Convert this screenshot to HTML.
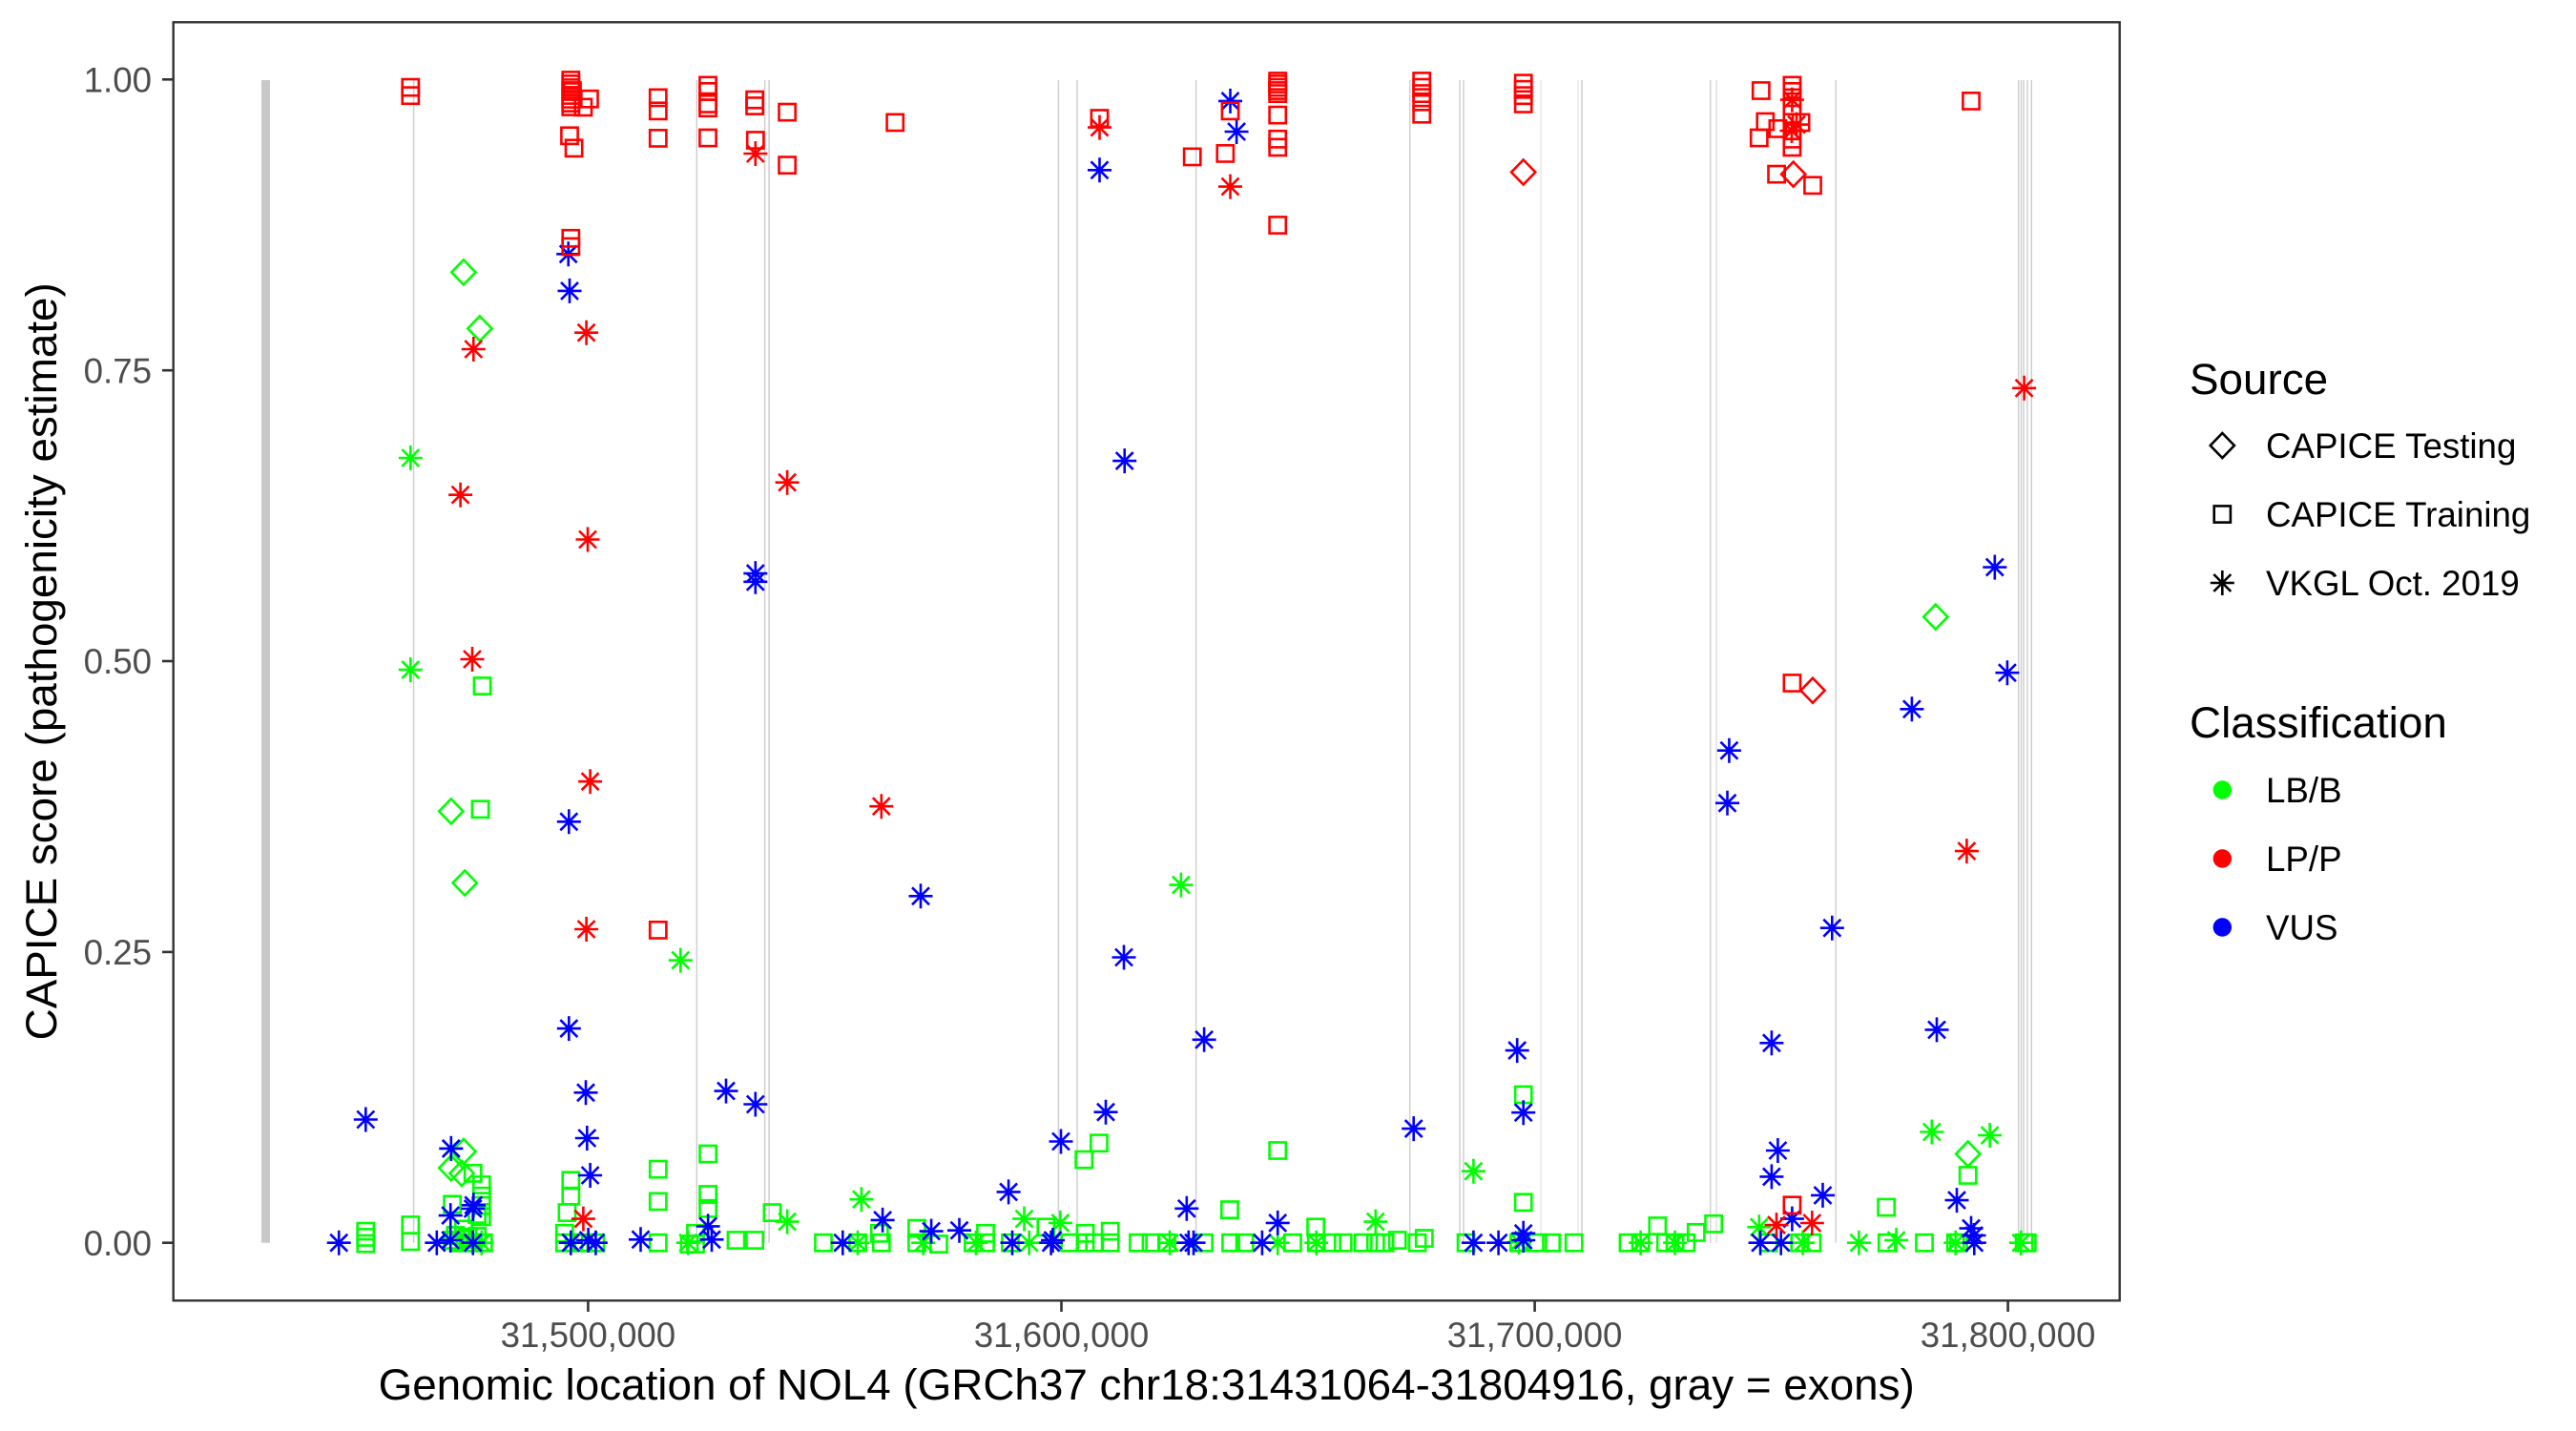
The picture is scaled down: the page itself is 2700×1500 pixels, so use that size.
<!DOCTYPE html>
<html><head><meta charset="utf-8"><style>
html,body{margin:0;padding:0;background:#fff;}
svg{display:block;font-family:"Liberation Sans",Arial,sans-serif;}
</style></head><body>
<svg width="2700" height="1500" viewBox="0 0 2700 1500" xmlns="http://www.w3.org/2000/svg" xmlns:xlink="http://www.w3.org/1999/xlink">
<defs>
<rect id="s" x="-8.6" y="-8.6" width="17.2" height="17.2" fill="none"/>
<path id="d" d="M0,-13 L12.6,0 L0,13 L-12.6,0Z" fill="none"/>
<path id="a" d="M0,-13V13M-12.5,0H12.5M-9,-9L9,9M-9,9L9,-9" fill="none"/>
</defs>
<rect x="0" y="0" width="2700" height="1500" fill="#fff"/>
<!-- exons -->
<rect x="274" y="84" width="9" height="1218.7" fill="#c8c8c8"/>
<g stroke="#cccccc" stroke-width="1.4">
<line x1="433.6" y1="84" x2="433.6" y2="1302.7"/>
<line x1="730.3" y1="84" x2="730.3" y2="1302.7"/>
<line x1="801.6" y1="84" x2="801.6" y2="1302.7"/>
<line x1="806.1" y1="84" x2="806.1" y2="1302.7"/>
<line x1="1109.4" y1="84" x2="1109.4" y2="1302.7"/>
<line x1="1129" y1="84" x2="1129" y2="1302.7"/>
<line x1="1253.6" y1="84" x2="1253.6" y2="1302.7"/>
<line x1="1477.8" y1="84" x2="1477.8" y2="1302.7"/>
<line x1="1530" y1="84" x2="1530" y2="1302.7"/>
<line x1="1534" y1="84" x2="1534" y2="1302.7"/>
<line x1="1615" y1="84" x2="1615" y2="1302.7" stroke="#e6e6e6"/>
<line x1="1654" y1="84" x2="1654" y2="1302.7" stroke="#e6e6e6"/>
<line x1="1658" y1="84" x2="1658" y2="1302.7"/>
<line x1="1792.8" y1="84" x2="1792.8" y2="1302.7"/>
<line x1="1799" y1="84" x2="1799" y2="1302.7" stroke="#dddddd"/>
<line x1="1924.2" y1="84" x2="1924.2" y2="1302.7"/>
<line x1="2115.7" y1="84" x2="2115.7" y2="1302.7"/>
<line x1="2118.5" y1="84" x2="2118.5" y2="1302.7"/>
<line x1="2121" y1="84" x2="2121" y2="1302.7"/>
<line x1="2125" y1="84" x2="2125" y2="1302.7"/>
<line x1="2129.3" y1="84" x2="2129.3" y2="1302.7"/>
</g>
<!-- GREEN -->
<g stroke="#00ff00" stroke-width="2.6" fill="none">
<use href="#s" x="505.5" y="719"/><use href="#s" x="503.5" y="848.3"/><use href="#s" x="1151.9" y="1198.2"/><use href="#s" x="1136.2" y="1215.6"/>
<use href="#s" x="742.1" y="1209.5"/><use href="#s" x="495.7" y="1229.9"/><use href="#s" x="504.8" y="1242"/><use href="#s" x="689.8" y="1225.6"/>
<use href="#s" x="598.3" y="1237.3"/><use href="#s" x="598.3" y="1253.7"/><use href="#s" x="742.1" y="1252"/><use href="#s" x="742.1" y="1266.8"/>
<use href="#s" x="689.8" y="1259.4"/><use href="#s" x="809.4" y="1271.1"/><use href="#s" x="474.1" y="1262.4"/><use href="#s" x="504.8" y="1253.7"/>
<use href="#s" x="504.8" y="1275.4"/><use href="#s" x="594.4" y="1271.1"/><use href="#s" x="961" y="1287.6"/><use href="#s" x="1033" y="1292.8"/>
<use href="#s" x="1096.3" y="1286.3"/><use href="#s" x="485.9" y="1288.4"/><use href="#s" x="490.5" y="1297"/><use href="#s" x="477.4" y="1295"/>
<use href="#s" x="500" y="1273"/><use href="#s" x="504.8" y="1263.7"/><use href="#s" x="1596.7" y="1147.5"/><use href="#s" x="1339.2" y="1206"/>
<use href="#s" x="2062.7" y="1232"/><use href="#s" x="1596.7" y="1260.3"/><use href="#s" x="1977.1" y="1265.5"/><use href="#s" x="1288.9" y="1268.1"/>
<use href="#s" x="1379.1" y="1286.3"/><use href="#s" x="1796.1" y="1282.8"/><use href="#s" x="1777.8" y="1291.9"/><use href="#s" x="1737.3" y="1285"/>
<use href="#s" x="430.3" y="1284"/><use href="#s" x="430.3" y="1301.4"/><use href="#s" x="383.3" y="1290.6"/><use href="#s" x="383.3" y="1297"/><use href="#s" x="383.3" y="1303.6"/>
<use href="#s" x="480.7" y="1302.7"/><use href="#s" x="487.2" y="1299"/><use href="#s" x="493.7" y="1302.7"/><use href="#s" x="500.2" y="1296"/>
<use href="#s" x="506.8" y="1302.7"/><use href="#s" x="474" y="1300"/><use href="#s" x="591.8" y="1302.7"/><use href="#s" x="601.6" y="1302.7"/>
<use href="#s" x="611.4" y="1302.7"/><use href="#s" x="624.4" y="1302.7"/><use href="#s" x="591.8" y="1292.8"/><use href="#s" x="689.8" y="1302.7"/>
<use href="#s" x="722.5" y="1304"/><use href="#s" x="729" y="1304"/><use href="#s" x="729" y="1292.8"/><use href="#s" x="771.5" y="1300"/>
<use href="#s" x="791.1" y="1300"/><use href="#s" x="863" y="1302.7"/><use href="#s" x="899" y="1302.7"/><use href="#s" x="923.8" y="1302.7"/>
<use href="#s" x="921.8" y="1292.8"/><use href="#s" x="961" y="1302.7"/><use href="#s" x="983.9" y="1304"/><use href="#s" x="1019.9" y="1302.7"/>
<use href="#s" x="1033" y="1302.7"/><use href="#s" x="1059" y="1302.7"/><use href="#s" x="1121.2" y="1302.7"/><use href="#s" x="1137.5" y="1302.7"/>
<use href="#s" x="1147.3" y="1302.7"/><use href="#s" x="1163.7" y="1302.7"/><use href="#s" x="1193" y="1302.7"/><use href="#s" x="1137.5" y="1292.8"/>
<use href="#s" x="1163.7" y="1290.6"/><use href="#s" x="1206.5" y="1302.7"/><use href="#s" x="1222.9" y="1302.7"/><use href="#s" x="1262" y="1302.7"/>
<use href="#s" x="1290" y="1302.7"/><use href="#s" x="1304.6" y="1302.7"/><use href="#s" x="1354.9" y="1302.7"/><use href="#s" x="1379.7" y="1302.7"/>
<use href="#s" x="1396" y="1302.7"/><use href="#s" x="1407.8" y="1302.7"/><use href="#s" x="1428.8" y="1302.7"/><use href="#s" x="1441.8" y="1302.7"/>
<use href="#s" x="1451.6" y="1302.7"/><use href="#s" x="1464.7" y="1300"/><use href="#s" x="1485.6" y="1302.7"/><use href="#s" x="1492.8" y="1298"/>
<use href="#s" x="1536.6" y="1302.7"/><use href="#s" x="1592" y="1302.7"/><use href="#s" x="1611.8" y="1302.7"/><use href="#s" x="1626.1" y="1302.7"/>
<use href="#s" x="1649.7" y="1302.7"/><use href="#s" x="1706.5" y="1302.7"/><use href="#s" x="1719.6" y="1302.7"/><use href="#s" x="1745.8" y="1302.7"/>
<use href="#s" x="1755.6" y="1302.7"/><use href="#s" x="1767.3" y="1302.7"/><use href="#s" x="1853.6" y="1302.7"/><use href="#s" x="1886.3" y="1302.7"/>
<use href="#s" x="1899.3" y="1302.7"/><use href="#s" x="1977.8" y="1302.7"/><use href="#s" x="2017" y="1302.7"/><use href="#s" x="2049.7" y="1302.7"/>
<use href="#s" x="2053" y="1302.7"/><use href="#s" x="2121.6" y="1302.7"/><use href="#s" x="2124.8" y="1302.7"/>
<use href="#a" x="430.3" y="480"/><use href="#a" x="430.3" y="702.1"/><use href="#a" x="713.3" y="1006.6"/><use href="#a" x="1237.9" y="927.6"/>
<use href="#a" x="902.9" y="1257.2"/><use href="#a" x="825.1" y="1280.6"/><use href="#a" x="1073.5" y="1277.6"/><use href="#a" x="1111.4" y="1281.9"/>
<use href="#a" x="472.8" y="1203.9"/><use href="#a" x="2024.8" y="1186.5"/><use href="#a" x="2085.6" y="1190"/><use href="#a" x="1544.4" y="1227.7"/>
<use href="#a" x="1441.8" y="1280.6"/><use href="#a" x="1843.8" y="1286.3"/>
<use href="#a" x="504.8" y="1302.7"/><use href="#a" x="721.2" y="1302.7"/><use href="#a" x="899" y="1302.7"/><use href="#a" x="967.6" y="1302.7"/>
<use href="#a" x="1023" y="1302.7"/><use href="#a" x="1078.7" y="1302.7"/><use href="#a" x="1226" y="1302.7"/><use href="#a" x="1339.2" y="1302.7"/>
<use href="#a" x="1379.7" y="1302.7"/><use href="#a" x="1719.6" y="1302.7"/><use href="#a" x="1755.6" y="1302.7"/><use href="#a" x="1889.5" y="1302.7"/>
<use href="#a" x="1948.4" y="1302.7"/><use href="#a" x="1987.6" y="1300"/><use href="#a" x="2049.7" y="1302.7"/><use href="#a" x="2118.3" y="1302.7"/><use href="#a" x="1592" y="1302"/>
<use href="#d" x="485.9" y="285.4"/><use href="#d" x="502.9" y="344.4"/><use href="#d" x="472.8" y="850.4"/><use href="#d" x="487.2" y="925.5"/>
<use href="#d" x="485.9" y="1207"/><use href="#d" x="472.8" y="1224.3"/><use href="#d" x="484" y="1230"/><use href="#d" x="2028.8" y="646.6"/><use href="#d" x="2062.7" y="1209.5"/>
</g>
<!-- BLUE -->
<g stroke="#0000ff" stroke-width="2.6" fill="none">
<use href="#a" x="1152.5" y="178.3"/><use href="#a" x="595.7" y="266.3"/><use href="#a" x="597" y="304.9"/><use href="#a" x="1178.7" y="483.1"/>
<use href="#a" x="791.8" y="601.1"/><use href="#a" x="791.8" y="609.8"/><use href="#a" x="596.3" y="861.3"/><use href="#a" x="965" y="939.3"/>
<use href="#a" x="1178" y="1003.5"/><use href="#a" x="596.3" y="1078.1"/><use href="#a" x="614" y="1145.3"/><use href="#a" x="761" y="1143.6"/>
<use href="#a" x="791.8" y="1157.5"/><use href="#a" x="1159" y="1165.7"/><use href="#a" x="383.3" y="1173.5"/><use href="#a" x="615.3" y="1193"/>
<use href="#a" x="1112" y="1196.5"/><use href="#a" x="472.8" y="1203.9"/><use href="#a" x="618.6" y="1232"/><use href="#a" x="1057.1" y="1249.4"/>
<use href="#a" x="496.3" y="1263.3"/><use href="#a" x="495.7" y="1267"/><use href="#a" x="472.2" y="1274.1"/><use href="#a" x="925.1" y="1278.9"/>
<use href="#a" x="742.1" y="1285.4"/><use href="#a" x="976.1" y="1290.6"/><use href="#a" x="1005.5" y="1289.7"/>
<use href="#a" x="355.2" y="1302.7"/><use href="#a" x="457.8" y="1302.7"/><use href="#a" x="472.2" y="1300"/><use href="#a" x="495.7" y="1302.7"/>
<use href="#a" x="598.3" y="1302.7"/><use href="#a" x="616.6" y="1300"/><use href="#a" x="624.4" y="1302.7"/><use href="#a" x="671.5" y="1299.3"/>
<use href="#a" x="746" y="1299.3"/><use href="#a" x="883.3" y="1302.7"/><use href="#a" x="1061" y="1302.7"/><use href="#a" x="1101.6" y="1302.7"/><use href="#a" x="1103.5" y="1300"/>
<use href="#a" x="1289.5" y="105.9"/><use href="#a" x="1296.1" y="138"/><use href="#a" x="2103.9" y="705.2"/><use href="#a" x="2003.9" y="743.3"/>
<use href="#a" x="1812.4" y="786.7"/><use href="#a" x="1810.5" y="841.8"/><use href="#a" x="1920.3" y="972.7"/><use href="#a" x="1262.1" y="1089.8"/>
<use href="#a" x="1590.2" y="1101.1"/><use href="#a" x="1856.9" y="1093.3"/><use href="#a" x="2030" y="1079.4"/><use href="#a" x="1596.7" y="1166.2"/>
<use href="#a" x="1481.7" y="1183.1"/><use href="#a" x="1863.4" y="1206"/><use href="#a" x="1856.9" y="1233.4"/><use href="#a" x="1910.5" y="1252.9"/>
<use href="#a" x="2051" y="1258.1"/><use href="#a" x="1243.8" y="1266.8"/><use href="#a" x="1339.2" y="1281.9"/><use href="#a" x="1878.4" y="1277.6"/>
<use href="#a" x="2066" y="1287.6"/><use href="#a" x="2069" y="1295"/><use href="#a" x="1596.7" y="1292.8"/><use href="#a" x="2090.8" y="594.6"/>
<use href="#a" x="1245.8" y="1302.7"/><use href="#a" x="1251" y="1302.7"/><use href="#a" x="1322.9" y="1302.7"/><use href="#a" x="1544.4" y="1302.7"/>
<use href="#a" x="1570.6" y="1302.7"/><use href="#a" x="1596.7" y="1300"/><use href="#a" x="1845.1" y="1302.7"/><use href="#a" x="1866.7" y="1302.7"/><use href="#a" x="2069.3" y="1302.7"/>
</g>
<!-- RED -->
<g stroke="#ff0000" stroke-width="2.6" fill="none">
<use href="#s" x="430.3" y="91.6"/><use href="#s" x="430.3" y="100.2"/>
<use href="#s" x="598.3" y="84"/><use href="#s" x="598.3" y="88"/><use href="#s" x="598.3" y="92"/><use href="#s" x="598.3" y="96"/>
<use href="#s" x="598.3" y="100"/><use href="#s" x="598.3" y="104"/><use href="#s" x="598.3" y="108"/><use href="#s" x="598.3" y="112"/>
<use href="#s" x="617.9" y="103.7"/><use href="#s" x="611.4" y="112.4"/><use href="#s" x="600" y="95"/>
<use href="#s" x="597" y="142.3"/><use href="#s" x="601.6" y="155.3"/>
<use href="#s" x="689.8" y="102.4"/><use href="#s" x="689.8" y="116.3"/><use href="#s" x="689.8" y="144.9"/>
<use href="#s" x="742" y="89.4"/><use href="#s" x="742" y="95.9"/><use href="#s" x="742" y="108.9"/><use href="#s" x="742" y="113.2"/><use href="#s" x="742" y="144.5"/>
<use href="#s" x="791.1" y="104.6"/><use href="#s" x="791.1" y="111"/><use href="#s" x="791.8" y="147"/>
<use href="#s" x="825.1" y="117.6"/><use href="#s" x="825.1" y="173.1"/><use href="#s" x="938.2" y="128.4"/><use href="#s" x="1152.5" y="124"/>
<use href="#s" x="598.3" y="249.8"/><use href="#s" x="598.3" y="258.5"/><use href="#s" x="689.8" y="974.9"/>
<use href="#s" x="1289.5" y="116.3"/><use href="#s" x="1249.7" y="164.4"/><use href="#s" x="1284.3" y="160.9"/>
<use href="#s" x="1339.2" y="85"/><use href="#s" x="1339.2" y="88"/><use href="#s" x="1339.2" y="91.6"/><use href="#s" x="1339.2" y="95"/>
<use href="#s" x="1339.2" y="98.1"/><use href="#s" x="1339.2" y="120.6"/><use href="#s" x="1339.2" y="145.8"/><use href="#s" x="1339.2" y="154.4"/><use href="#s" x="1339.2" y="236"/>
<use href="#s" x="1490.2" y="85"/><use href="#s" x="1490.2" y="91.6"/><use href="#s" x="1490.2" y="98.1"/><use href="#s" x="1490.2" y="106.7"/><use href="#s" x="1490.2" y="119.7"/>
<use href="#s" x="1596.7" y="87.2"/><use href="#s" x="1596.7" y="93.7"/><use href="#s" x="1596.7" y="100.2"/><use href="#s" x="1596.7" y="108.9"/>
<use href="#s" x="1845.8" y="95"/><use href="#s" x="1878.4" y="89.4"/><use href="#s" x="1878.4" y="95.9"/><use href="#s" x="1878.4" y="102.4"/><use href="#s" x="1878.4" y="111.1"/>
<use href="#s" x="1850.3" y="127.5"/><use href="#s" x="1863.4" y="134.9"/><use href="#s" x="1843.8" y="144.5"/><use href="#s" x="1878.4" y="128.4"/>
<use href="#s" x="1878.4" y="137.1"/><use href="#s" x="1878.4" y="145.8"/><use href="#s" x="1878.4" y="154.4"/><use href="#s" x="1887.6" y="128.4"/>
<use href="#s" x="1862.1" y="182.6"/><use href="#s" x="1900" y="194.3"/><use href="#s" x="2066" y="105.9"/><use href="#s" x="1878.4" y="716"/><use href="#s" x="1878.4" y="1263.3"/>
<use href="#d" x="1596.7" y="180.5"/><use href="#d" x="1879.7" y="182.6"/><use href="#d" x="1900" y="723.8"/>
<use href="#a" x="791.8" y="161"/><use href="#a" x="1152.5" y="133.6"/><use href="#a" x="614.6" y="348.7"/><use href="#a" x="496.3" y="366"/>
<use href="#a" x="482.6" y="518.7"/><use href="#a" x="825.1" y="505.7"/><use href="#a" x="616" y="565.5"/><use href="#a" x="495" y="691"/>
<use href="#a" x="618.6" y="819.2"/><use href="#a" x="923.8" y="845.2"/><use href="#a" x="614.6" y="974"/><use href="#a" x="611.4" y="1277.6"/>
<use href="#a" x="1289.5" y="195.6"/><use href="#a" x="1878.4" y="104.6"/><use href="#a" x="1883" y="130.6"/><use href="#a" x="1878" y="137"/>
<use href="#a" x="2121.6" y="406.8"/><use href="#a" x="2061.4" y="892.1"/><use href="#a" x="1862" y="1284.1"/><use href="#a" x="1899.3" y="1282"/>
</g>
<!-- panel border -->
<rect x="181.7" y="23.3" width="2040" height="1340" fill="none" stroke="#333333" stroke-width="2.4"/>
<!-- ticks -->
<g stroke="#333333" stroke-width="2.6">
<line x1="170" y1="83.3" x2="181.7" y2="83.3"/>
<line x1="170" y1="388.2" x2="181.7" y2="388.2"/>
<line x1="170" y1="693" x2="181.7" y2="693"/>
<line x1="170" y1="997.9" x2="181.7" y2="997.9"/>
<line x1="170" y1="1302.7" x2="181.7" y2="1302.7"/>
<line x1="616.4" y1="1363.3" x2="616.4" y2="1375"/>
<line x1="1112.5" y1="1363.3" x2="1112.5" y2="1375"/>
<line x1="1608.6" y1="1363.3" x2="1608.6" y2="1375"/>
<line x1="2104.6" y1="1363.3" x2="2104.6" y2="1375"/>
</g>
<g fill="#4d4d4d" font-size="36.7">
<text x="159" y="96.4" text-anchor="end">1.00</text>
<text x="159" y="401.3" text-anchor="end">0.75</text>
<text x="159" y="706.1" text-anchor="end">0.50</text>
<text x="159" y="1011" text-anchor="end">0.25</text>
<text x="159" y="1315.8" text-anchor="end">0.00</text>
<text x="616.4" y="1412" text-anchor="middle">31,500,000</text>
<text x="1112.5" y="1412" text-anchor="middle">31,600,000</text>
<text x="1608.6" y="1412" text-anchor="middle">31,700,000</text>
<text x="2104.6" y="1412" text-anchor="middle">31,800,000</text>
</g>
<text x="1201.7" y="1467" text-anchor="middle" font-size="45.8" fill="#000">Genomic location of NOL4 (GRCh37 chr18:31431064-31804916, gray = exons)</text>
<text transform="translate(59,693.3) rotate(-90)" text-anchor="middle" font-size="45.8" fill="#000">CAPICE score (pathogenicity estimate)</text>
<!-- legend -->
<text x="2295" y="413" font-size="45.8" fill="#000">Source</text>
<g stroke="#000" stroke-width="2.6" fill="none">
<use href="#d" x="2329.3" y="467"/>
<use href="#s" x="2329.3" y="539"/>
<use href="#a" x="2329.3" y="611"/>
</g>
<g font-size="36.7" fill="#000">
<text x="2375" y="480">CAPICE Testing</text>
<text x="2375" y="552">CAPICE Training</text>
<text x="2375" y="624">VKGL Oct. 2019</text>
</g>
<text x="2295" y="773" font-size="45.8" fill="#000">Classification</text>
<circle cx="2329.3" cy="828" r="9.7" fill="#00ff00"/>
<circle cx="2329.3" cy="900" r="9.7" fill="#ff0000"/>
<circle cx="2329.3" cy="972" r="9.7" fill="#0000ff"/>
<g font-size="36.7" fill="#000">
<text x="2375" y="841">LB/B</text>
<text x="2375" y="913">LP/P</text>
<text x="2375" y="985">VUS</text>
</g>
</svg>
</body></html>
